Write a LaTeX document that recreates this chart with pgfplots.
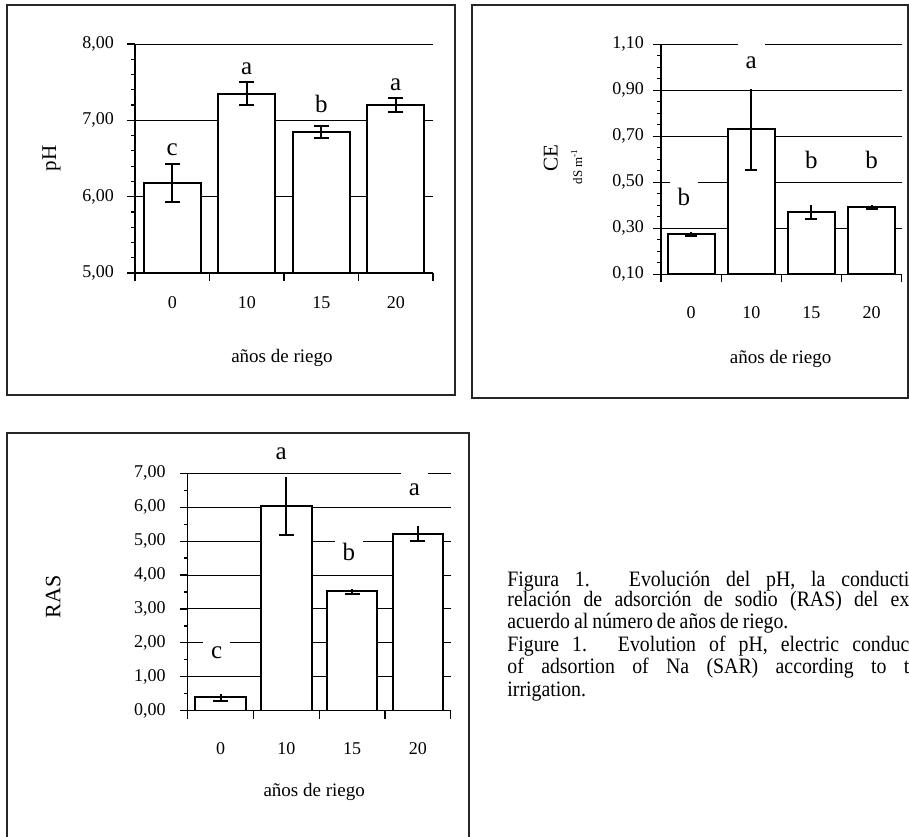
\documentclass[border=0pt]{standalone}
\usepackage{pgfplots}
\pgfplotsset{compat=1.18}
\usepackage{pgfplotstable}
\usepackage{fontspec}
\setmainfont{Liberation Serif}
\newfontfamily\capfont[FakeStretch=0.9]{Liberation Serif}

\pgfplotstableread{
x y e
0 6.18 0.25
1 7.35 0.155
2 6.85 0.075
3 7.20 0.09
}\tablepH
\pgfplotstableread{
x y e
0 0.275 0.008
1 0.730 0.176
2 0.370 0.031
3 0.393 0.010
}\tableCE
\pgfplotstableread{
x y e
0 0.40 0.105
1 6.04 0.86
2 3.52 0.08
3 5.22 0.22
}\tableRAS

\pgfplotsset{
  panel/.style={
    scale only axis,
    anchor=south west,
    xmin=-0.5, xmax=3.5,
    axis lines=left,
    axis line style={-, line width=0.6pt, black},
    xtick={-0.5,0.5,1.5,2.5,3.5},
    x tick label as interval,
    xticklabels={0,10,15,20},
    tick align=outside,
    major tick length=4pt,
    minor tick length=2pt,
    tick style={black, line width=0.6pt},
    ymajorgrids,
    grid style={black, line width=0.5pt},
    yticklabel style={/pgf/number format/fixed, /pgf/number format/fixed zerofill,
      /pgf/number format/precision=2, /pgf/number format/use comma,
      /pgf/number format/assume math mode=true},
    xticklabel style={/pgf/number format/assume math mode=true},
    tick label style={font=\fontsize{9}{10}\selectfont},
    clip mode=individual,
  },
  barplot/.style={ybar, bar shift=0pt, bar width=#1, fill=white, draw=black, line width=1pt},
}
\tikzset{
  lab/.style={font=\fontsize{12.5}{13}\selectfont, fill=white, inner xsep=4pt, inner ysep=2pt, text height=1em, text depth=0.25em, anchor=base},
  labn/.style={font=\fontsize{12.5}{13}\selectfont, inner sep=0pt, anchor=base},
  xlab/.style={font=\fontsize{9.5}{11}\selectfont, anchor=base, inner sep=0pt},
  captxt/.style={anchor=base west, inner sep=0pt, font=\capfont\fontsize{11}{11}\selectfont},
}

\begin{document}
\begin{tikzpicture}
\useasboundingbox (0,0) rectangle (454.5pt,418pt);
\clip (0,0) rectangle (454.5pt,418pt);

% frames
\draw[line width=0.75pt, black!85] (3.5pt,220.5pt) rectangle (227.5pt,415.5pt);
\draw[line width=0.75pt, black!85] (236pt,219pt) rectangle (454pt,415.5pt);
\draw[line width=0.75pt, black!85] (3.5pt,-5pt) rectangle (234.5pt,201.5pt);

% ---------- pH ----------
\begin{axis}[panel,
  at={(67.5pt,281.5pt)}, width=149pt, height=114.5pt,
  ymin=5, ymax=8, ytick={5,6,7,8}, minor y tick num=4,
  xticklabel style={yshift=-4.3pt},
  yticklabel style={xshift=-3pt},
]
\addplot[barplot=0.765, error bars/.cd, y dir=both, y explicit, error mark=-,
  error mark options={rotate=90, mark size=3.75pt, line width=1pt, black},
  error bar style={line width=1pt, black}]
  table[x=x, y=y, y error=e]{\tablepH};
\node[labn] at (axis cs:0,6.533) {c};
\node[labn] at (axis cs:1,7.607) {a};
\node[labn] at (axis cs:2,7.105) {b};
\node[labn] at (axis cs:3,7.388) {a};
\node[rotate=90, font=\fontsize{10.5}{12}\selectfont] at (rel axis cs:-0.28,0.5) {pH};
\node[xlab] at (rel axis cs:0.493,-0.393) {años de riego};
\end{axis}

% ---------- CE ----------
\begin{axis}[panel,
  at={(330.5pt,280.85pt)}, width=120.35pt, height=115pt,
  ymin=0.1, ymax=1.1, ytick={0.1,0.3,0.5,0.7,0.9,1.1}, minor y tick num=3,
  xticklabel style={yshift=-8.5pt},
  yticklabel style={xshift=-1pt},
]
\addplot[barplot=0.78, error bars/.cd, y dir=minus, y explicit, error mark=-,
  error mark options={rotate=90, mark size=3pt, line width=1pt, black},
  error bar style={line width=1pt, black}]
  table[x=x, y=y, y error=e]{\tableCE};
\addplot[draw=none, mark=none, error bars/.cd, y dir=plus, y explicit, error mark=none,
  error bar style={draw=black, solid, line width=1pt}]
  table[x=x, y=y, y error=e]{\tableCE};
\node[lab] at (axis cs:-0.12,0.401) {b};
\node[lab] at (axis cs:1,0.996) {a};
\node[lab] at (axis cs:2,0.558) {b};
\node[lab] at (axis cs:3,0.558) {b};
\node[rotate=90, font=\fontsize{10.5}{12}\selectfont] at (rel axis cs:-0.458,0.504) {CE};
\node[rotate=90, font=\fontsize{6.5}{7}\selectfont] at (rel axis cs:-0.35,0.468) {dS m\textsuperscript{-1}};
\node[xlab] at (rel axis cs:0.497,-0.386) {años de riego};
\end{axis}

% ---------- RAS ----------
\begin{axis}[panel,
  at={(93.85pt,62.65pt)}, width=131.5pt, height=118.7pt,
  ymin=0, ymax=7, ytick={0,1,2,3,4,5,6,7}, minor y tick num=1,
  xticklabel style={yshift=-8.5pt},
  yticklabel style={xshift=-3.5pt},
]
\addplot[barplot=0.77, error bars/.cd, y dir=minus, y explicit, error mark=-,
  error mark options={rotate=90, mark size=3.75pt, line width=1pt, black},
  error bar style={line width=1pt, black}]
  table[x=x, y=y, y error=e]{\tableRAS};
\addplot[draw=none, mark=none, error bars/.cd, y dir=plus, y explicit, error mark=none,
  error bar style={draw=black, solid, line width=1pt}]
  table[x=x, y=y, y error=e]{\tableRAS};
\node[lab] at (axis cs:-0.06,1.546) {c};
\node[lab] at (axis cs:0.92,7.416) {a};
\node[lab] at (axis cs:1.95,4.425) {b};
\node[lab] at (axis cs:2.95,6.333) {a};
\node[rotate=90, font=\fontsize{11}{12}\selectfont] at (rel axis cs:-0.511,0.48) {RAS};
\node[xlab] at (rel axis cs:0.481,-0.362) {años de riego};
\end{axis}

% caption
\node[captxt] at (253.5pt,124.65pt) {\hbox to 201pt{Figura 1. Evolución del pH, la conducti}};
\node[captxt] at (253.5pt,114.65pt) {\hbox to 201pt{relación de adsorción de sodio (RAS) del ex}};
\node[captxt] at (253.5pt,103.85pt) {\hbox to 140.5pt{acuerdo al número de años de riego.}};
\node[captxt] at (253.5pt,92.15pt) {\hbox to 201pt{Figure 1. Evolution of pH, electric conduc}};
\node[captxt] at (253.5pt,81.35pt) {\hbox to 201pt{of adsortion of Na (SAR) according to t}};
\node[captxt] at (253.5pt,69.65pt) {irrigation.};
\end{tikzpicture}
\end{document}
